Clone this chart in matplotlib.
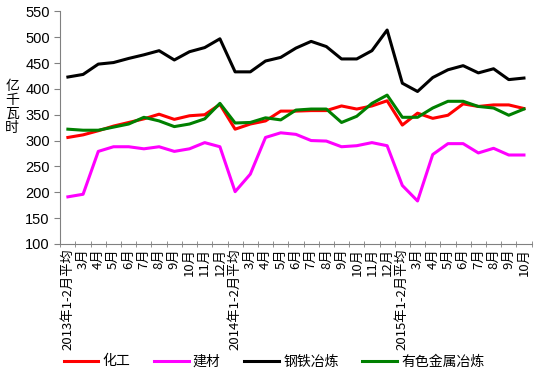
# 分行业用电量折线图
import numpy as np
import matplotlib.pyplot as plt

plt.rcParams['font.family'] = ['Liberation Sans', 'Noto Sans CJK SC', 'DejaVu Sans']

# 数据
meses = ["2013年1-2月平均", "3月", "4月", "5月", "6月", "7月", "8月", "9月", "10月", "11月", "12月",
         "2014年1-2月平均", "3月", "4月", "5月", "6月", "7月", "8月", "9月", "10月", "11月", "12月",
         "2015年1-2月平均", "3月", "4月", "5月", "6月", "7月", "8月", "9月", "10月"]

huagong = [306, 311, 319, 328, 335, 342, 351, 341, 348, 350, 370,
           322, 332, 338, 357, 357, 358, 358, 367, 361, 367, 377,
           330, 353, 343, 349, 371, 366, 369, 369, 362]
jiancai = [191, 196, 279, 288, 288, 284, 288, 279, 284, 296, 288,
           201, 235, 306, 315, 312, 300, 299, 288, 290, 296, 290,
           213, 183, 273, 294, 294, 276, 285, 272, 272]
gangtie = [423, 428, 448, 451, 459, 466, 474, 456, 472, 480, 497,
           433, 433, 454, 461, 479, 492, 482, 458, 458, 474, 514,
           411, 395, 422, 437, 445, 431, 439, 418, 421]
youse = [322, 320, 320, 326, 332, 345, 338, 327, 332, 342, 372,
         334, 335, 344, 340, 359, 361, 361, 335, 347, 372, 388,
         345, 345, 363, 376, 376, 366, 363, 349, 361]

series = [("化工", huagong, "#FF0000"),
          ("建材", jiancai, "#FF00FF"),
          ("钢铁冶炼", gangtie, "#000000"),
          ("有色金属冶炼", youse, "#008000")]

x = np.arange(len(meses))

fig = plt.figure(figsize=(5.48, 3.81), dpi=100)
ax = fig.add_axes([0.11, 0.36, 0.86, 0.61])

for nombre, valores, color in series:
    ax.plot(x, valores, color=color, lw=2.2, label=nombre)

ax.set_xlim(-0.5, len(meses) - 0.5)
ax.set_ylim(100, 550)
ax.set_yticks(range(100, 551, 50))
ax.set_xticks(x)
ax.set_xticklabels(meses, rotation=90, fontsize=9.5, family=['Noto Sans CJK SC', 'DejaVu Sans'])
ax.set_xticks(np.arange(-0.5, len(meses), 1), minor=True)
ax.tick_params(axis='x', which='major', length=0, pad=3)
ax.tick_params(axis='x', which='minor', length=5, direction='inout', color='#808080')
ax.tick_params(axis='y', length=4, direction='out', color='#808080', labelsize=10.5)

for lado in ['top', 'right']:
    ax.spines[lado].set_visible(False)
for lado in ['left', 'bottom']:
    ax.spines[lado].set_color('#808080')

fig.text(0.022, 0.72, "亿\n千\n瓦\n时", fontsize=10, va='center', ha='center', linespacing=1.0,
         family=['Noto Sans CJK SC'])

fig.legend(loc='lower center', ncol=4, bbox_to_anchor=(0.5, 0.0), frameon=False,
           prop={'family': 'Noto Sans CJK SC', 'size': 10},
           handlelength=2.5, columnspacing=1.7, handletextpad=0.3)

fig.savefig("out.png", dpi=100)
